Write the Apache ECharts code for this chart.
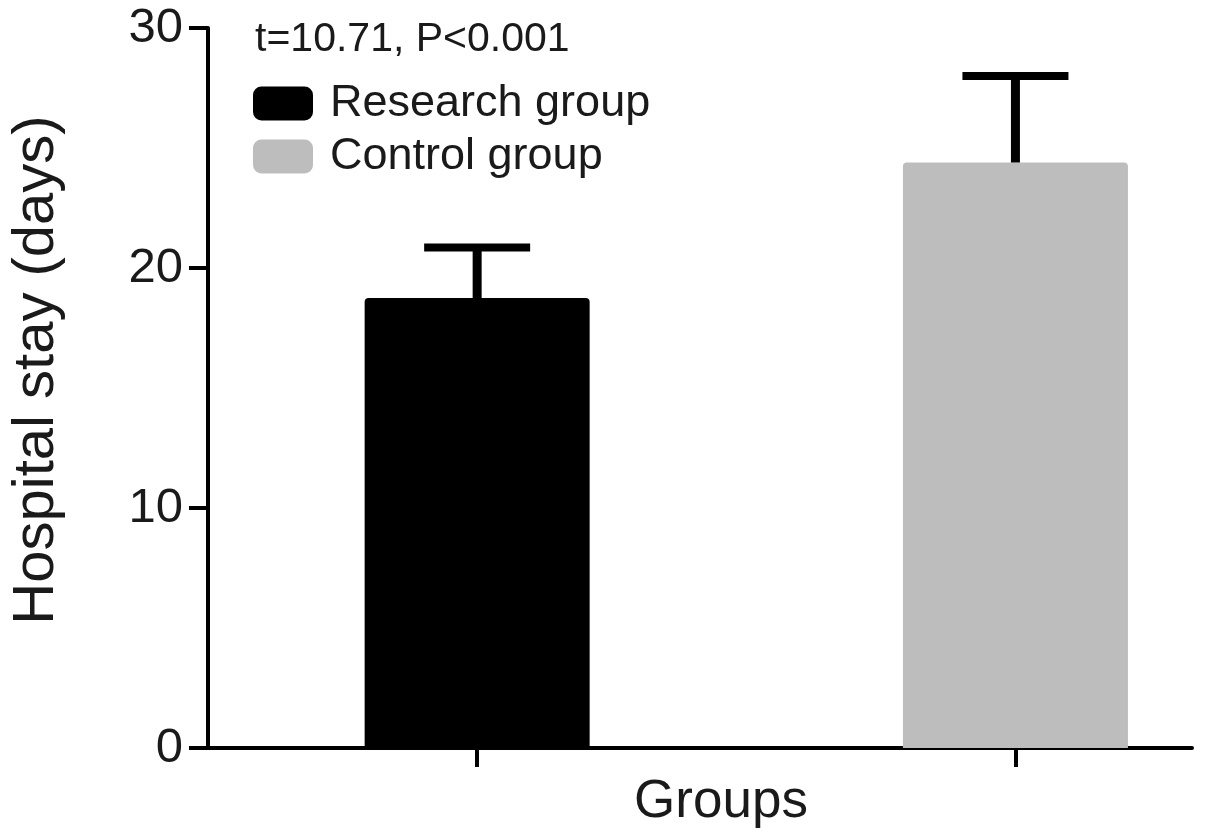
<!DOCTYPE html>
<html>
<head>
<meta charset="utf-8">
<style>html,body{margin:0;padding:0;background:#fff;overflow:hidden}#c{width:100vw;height:100vh}</style>
<script src="https://cdn.jsdelivr.net/npm/echarts@6/dist/echarts.min.js"></script>
</head>
<body>
<div id="c"></div>
<script>
var groups = ['Research group', 'Control group'];
var positions = [1, 2];
var means = [18.75, 24.4];
var sds = [2.1, 3.6];
var colors = ['#000000', '#bdbdbd'];
var yTicks = [0, 10, 20, 30];
var statText = 't=10.71, P<0.001';

var chart = echarts.init(document.getElementById('c'));
var FONT = '"Liberation Sans", Arial, sans-serif';

var barSeries = groups.map(function (g, i) {
  return {
    name: g,
    type: 'bar',
    barWidth: 225,
    barGap: '-100%',
    itemStyle: { color: colors[i], borderRadius: [4, 4, 0, 0] },
    data: [[positions[i], means[i]]],
    z: 2
  };
});

var errSeries = {
  type: 'custom',
  name: 'err',
  z: 3,
  data: positions.map(function (p, i) { return [p, means[i], means[i] + sds[i]]; }),
  renderItem: function (params, api) {
    var base = api.coord([api.value(0), api.value(1)]);
    var top = api.coord([api.value(0), api.value(2)]);
    var half = 53;
    return {
      type: 'group',
      children: [
        { type: 'line', shape: { x1: base[0], y1: base[1], x2: top[0], y2: top[1] }, style: { stroke: '#000', lineWidth: 9 } },
        { type: 'line', shape: { x1: top[0] - half, y1: top[1], x2: top[0] + half, y2: top[1] }, style: { stroke: '#000', lineWidth: 8 } }
      ]
    };
  }
};

chart.setOption({
  animation: false,
  backgroundColor: '#fff',
  grid: { left: 205, top: 28, right: 13, bottom: 88, containLabel: false },
  title: {
    text: statText, left: 250, top: 14,
    textStyle: { fontFamily: FONT, fontSize: 41, fontWeight: 'normal', color: '#1a1a1a' }
  },
  legend: {
    data: groups,
    orient: 'vertical',
    left: 253, top: 81, padding: 0,
    itemWidth: 60, itemHeight: 34, itemGap: 8,
    icon: 'roundRect',
    textStyle: { fontFamily: FONT, fontSize: 45, color: '#1a1a1a', padding: [0, 0, 0, 12] }
  },
  xAxis: {
    type: 'value',
    min: 0.5, max: 2.328,
    name: 'Groups', nameLocation: 'middle', nameGap: 28,
    nameTextStyle: { fontFamily: FONT, fontSize: 53, color: '#1a1a1a', verticalAlign: 'top', padding: [0, 0, 0, 42] },
    axisLine: { show: true, lineStyle: { color: '#000', width: 4 } },
    axisTick: { show: true, length: 19, lineStyle: { color: '#000', width: 4 }, customValues: positions },
    axisLabel: { show: false },
    splitLine: { show: false }
  },
  yAxis: {
    type: 'value',
    min: 0, max: 30, interval: 10,
    name: 'Hospital stay (days)', nameLocation: 'middle', nameGap: 142,
    nameTextStyle: { fontFamily: FONT, fontSize: 58, color: '#1a1a1a', padding: [0, 0, 0, 36] },
    axisLine: { show: true, lineStyle: { color: '#000', width: 4 } },
    axisTick: { show: true, length: 19, lineStyle: { color: '#000', width: 4 }, customValues: yTicks },
    axisLabel: { fontFamily: FONT, fontSize: 49, color: '#1a1a1a', margin: 25, customValues: yTicks },
    splitLine: { show: false }
  },
  series: barSeries.concat([errSeries])
});
</script>
</body>
</html>
